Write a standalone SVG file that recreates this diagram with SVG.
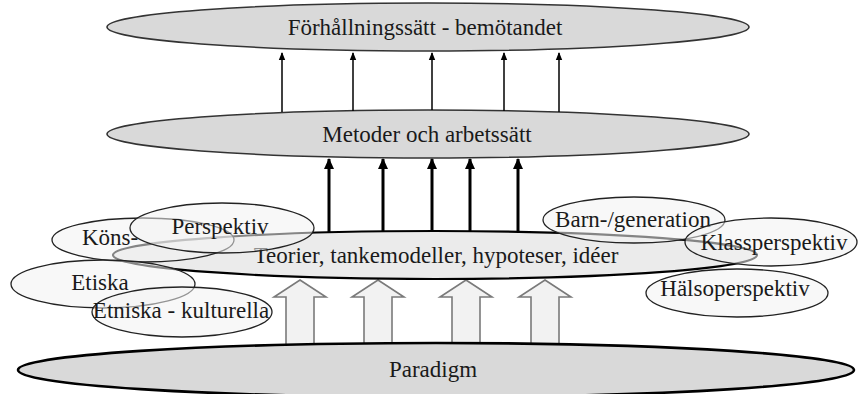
<svg xmlns="http://www.w3.org/2000/svg" width="860" height="394" viewBox="0 0 860 394">
<defs>
<style>
text{font-family:"Liberation Serif","Times New Roman",serif;font-size:23px;fill:#1a1a1a;text-anchor:middle}
.big{fill:#d9d9d9;stroke:#333;stroke-width:1.6}
.teo{fill:#ebebeb;stroke:#000;stroke-width:2.2}
.par{fill:#d9d9d9;stroke:#000;stroke-width:2.6}
.sm{fill:#f2f2f2;fill-opacity:0.55;stroke:#222;stroke-width:1.3}
.thin{stroke:#000;stroke-width:1.5;fill:none}
.thick{stroke:#000;stroke-width:3;fill:none}
.blk{fill:#f2f2f2;stroke:#7a7a7a;stroke-width:1.6}
</style>
<marker id="ah1" markerUnits="userSpaceOnUse" markerWidth="8" markerHeight="8" viewBox="0 0 8 8" refX="7" refY="4" orient="auto"><path d="M0,0.8 L8,4 L0,7.2 Z" fill="#000"/></marker>
<marker id="ah2" markerUnits="userSpaceOnUse" markerWidth="11" markerHeight="11" viewBox="0 0 11 11" refX="10" refY="5.5" orient="auto"><path d="M0,0.5 L11,5.5 L0,10.5 Z" fill="#000"/></marker>
</defs>
<g id="forhallning"><ellipse class="big" cx="428" cy="27" rx="321" ry="24"/><text x="425" y="35">Förhållningssätt - bemötandet</text></g>
<g id="metoder"><ellipse class="big" cx="428" cy="134" rx="321" ry="24"/><text x="427" y="142">Metoder och arbetssätt</text></g>
<g id="connectors">
<line class="thin" x1="282" y1="112" x2="282" y2="53" marker-end="url(#ah1)"/>
<line class="thin" x1="353" y1="111" x2="353" y2="53" marker-end="url(#ah1)"/>
<line class="thin" x1="432" y1="110" x2="432" y2="53" marker-end="url(#ah1)"/>
<line class="thin" x1="504" y1="111" x2="504" y2="53" marker-end="url(#ah1)"/>
<line class="thin" x1="559" y1="112" x2="559" y2="53" marker-end="url(#ah1)"/>
<line class="thick" x1="329" y1="233" x2="329" y2="159" marker-end="url(#ah2)"/>
<line class="thick" x1="383" y1="232" x2="383" y2="159" marker-end="url(#ah2)"/>
<line class="thick" x1="432" y1="232" x2="432" y2="159" marker-end="url(#ah2)"/>
<line class="thick" x1="470" y1="232" x2="470" y2="159" marker-end="url(#ah2)"/>
<line class="thick" x1="518" y1="232" x2="518" y2="159" marker-end="url(#ah2)"/>
<path class="blk" d="M300,280 L326,297 L314,297 L314,350 L286,350 L286,297 L274,297 Z"/>
<path class="blk" d="M378,280 L404,297 L392,297 L392,350 L364,350 L364,297 L352,297 Z"/>
<path class="blk" d="M466,280 L492,297 L480,297 L480,350 L452,350 L452,297 L440,297 Z"/>
<path class="blk" d="M545,280 L571,297 L559,297 L559,350 L531,350 L531,297 L519,297 Z"/>
</g>
<g id="teorier"><ellipse class="teo" cx="435" cy="255" rx="322" ry="24"/><text x="436" y="263">Teorier, tankemodeller, hypoteser, idéer</text></g>
<g id="paradigm"><ellipse class="par" cx="436" cy="370" rx="418" ry="27"/><text x="433" y="377">Paradigm</text></g>
<g id="kons"><ellipse class="sm" cx="143" cy="240" rx="91" ry="22"/><text x="110" y="245">Köns-</text></g>
<g id="perspektiv"><ellipse class="sm" cx="222" cy="228" rx="92" ry="25"/><text x="220" y="234">Perspektiv</text></g>
<g id="etiska"><ellipse class="sm" cx="103" cy="284" rx="92" ry="24"/><text x="100" y="290">Etiska</text></g>
<g id="etniska"><ellipse class="sm" cx="182" cy="312" rx="90" ry="25"/><text x="181" y="318">Etniska - kulturella</text></g>
<g id="barn"><ellipse class="sm" cx="634" cy="220" rx="91" ry="23"/><text x="633" y="227">Barn-/generation</text></g>
<g id="klass"><ellipse class="sm" cx="771" cy="242" rx="86" ry="24"/><text x="774" y="250">Klassperspektiv</text></g>
<g id="halso"><ellipse class="sm" cx="737" cy="293" rx="91" ry="24"/><text x="735" y="296">Hälsoperspektiv</text></g>
</svg>
